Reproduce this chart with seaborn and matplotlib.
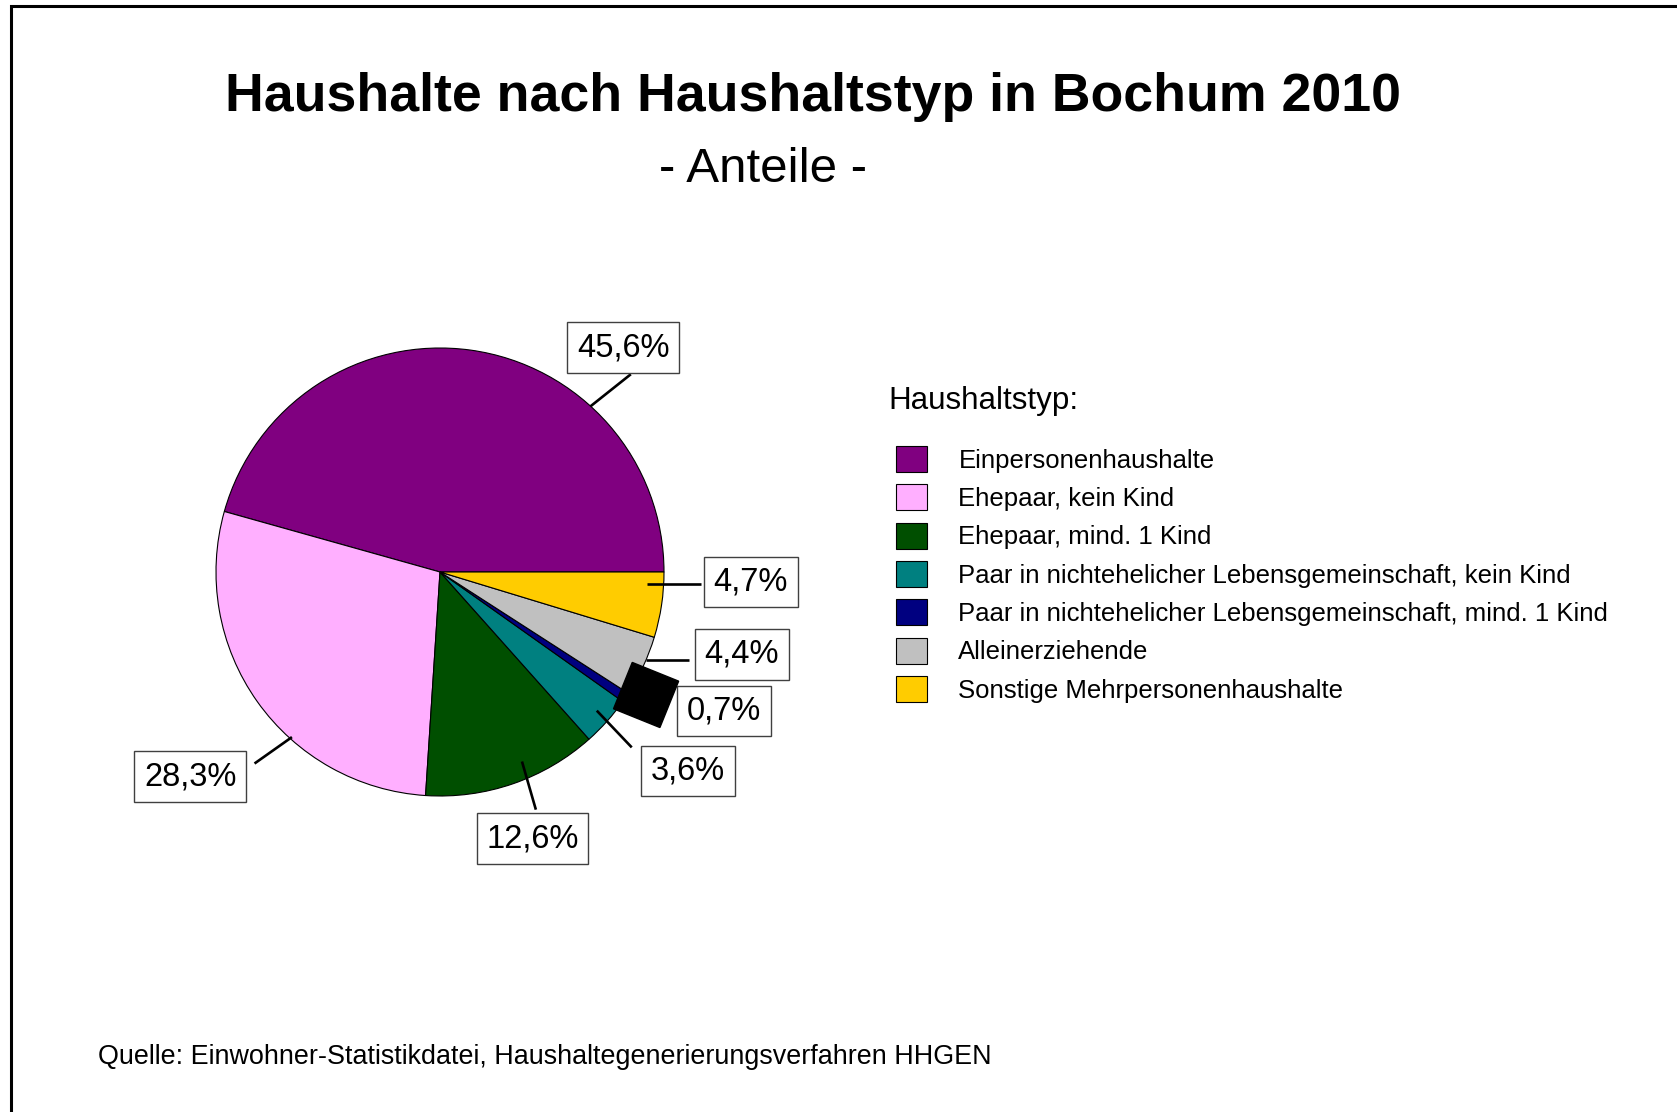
import numpy as np
import seaborn as sns
import matplotlib.pyplot as plt
from matplotlib.patches import Rectangle

# data
categories = [
    "Einpersonenhaushalte",
    "Ehepaar, kein Kind",
    "Ehepaar, mind. 1 Kind",
    "Paar in nichtehelicher Lebensgemeinschaft, kein Kind",
    "Paar in nichtehelicher Lebensgemeinschaft, mind. 1 Kind",
    "Alleinerziehende",
    "Sonstige Mehrpersonenhaushalte",
]
shares = [45.6, 28.3, 12.6, 3.6, 0.7, 4.4, 4.7]
colors = ["#800080", "#FFAFFF", "#004F00", "#008080", "#000080", "#C0C0C0", "#FFCC00"]

# label layout in pie units (radius = 1): box centre, leader start, leader end
label_pos = [(0.819, 1.002), (-1.114, -0.913), (0.413, -1.190), (1.106, -0.888),
             (1.268, -0.621), (1.348, -0.368), (1.388, -0.044)]
leader_a = [(0.671, 0.739), (-0.661, -0.737), (0.366, -0.846), (0.700, -0.619),
            None, (0.920, -0.393), (0.924, -0.054)]
leader_b = [(0.852, 0.883), (-0.828, -0.855), (0.428, -1.061), (0.856, -0.783),
            None, (1.110, -0.393), (1.163, -0.054)]

sns.set_theme(style="white")
plt.rcParams["font.family"] = ["Liberation Sans", "DejaVu Sans"]
plt.rcParams["text.color"] = "black"

W, H = 1677, 1112
fig = plt.figure(figsize=(W / 100, H / 100), dpi=100)

# pie axes: centre at pixel (440, 572), radius 224 px
cx, cy, R = 440, 572, 224
px0, px1, py0, py1 = 80, 900, 300, 920
ax = fig.add_axes([px0 / W, (H - py1) / H, (px1 - px0) / W, (py1 - py0) / H])
wedges, _ = ax.pie(shares, colors=colors, startangle=0, counterclock=True,
                   wedgeprops=dict(edgecolor="black", linewidth=0.8))
ax.set_xlim((px0 - cx) / R, (px1 - cx) / R)
ax.set_ylim((cy - py1) / R, (cy - py0) / R)
ax.set_aspect("auto")
ax.axis("off")

for val, pos, a, b in zip(shares, label_pos, leader_a, leader_b):
    txt = f"{val:.1f}%".replace(".", ",")
    ax.text(pos[0], pos[1], txt, ha="center", va="center", fontsize=23.5,
            color="black",
            bbox=dict(boxstyle="square,pad=0.3", fc="white", ec="#404040", lw=1))
    if a is not None:
        ax.plot([a[0], b[0]], [a[1], b[1]], color="black", lw=1.9,
                solid_capstyle="butt")

# the heavy marker next to the 0,7% slice
side = 50 / R
ang = np.deg2rad(-22)
c = np.array([0.92, -0.549])
corner = c - 0.5 * side * np.array([np.cos(ang) - np.sin(ang), np.sin(ang) + np.cos(ang)])
ax.add_patch(Rectangle(corner, side, side, angle=-22, color="black", zorder=5))

# titles
fig.text(813 / W, 1 - 97 / H, "Haushalte nach Haushaltstyp in Bochum 2010",
         ha="center", va="center", fontsize=38.6, fontweight="bold")
fig.text(763 / W, 1 - 169 / H, "- Anteile -", ha="center", va="center", fontsize=35.5)

# legend
fig.text(888 / W, 1 - 401 / H, "Haushaltstyp:", ha="left", va="center", fontsize=22.6)
fig.legend(wedges, categories, loc="upper left",
           bbox_to_anchor=(896 / W, 1 - 446 / H), frameon=False,
           fontsize=18.5, handlelength=1.19, handleheight=1.19,
           handletextpad=1.24, labelspacing=0.45, borderpad=0, borderaxespad=0)

fig.text(98 / W, 1 - 1057 / H,
         "Quelle: Einwohner-Statistikdatei, Haushaltegenerierungsverfahren HHGEN",
         ha="left", va="center", fontsize=19.4)

# frame around the chart
fig.add_artist(Rectangle((10.5 / W, -0.2), 1.5, 1.2 - 6 / H, transform=fig.transFigure,
                         fill=False, ec="black", lw=2.2))

fig.savefig("out.png", dpi=100)
